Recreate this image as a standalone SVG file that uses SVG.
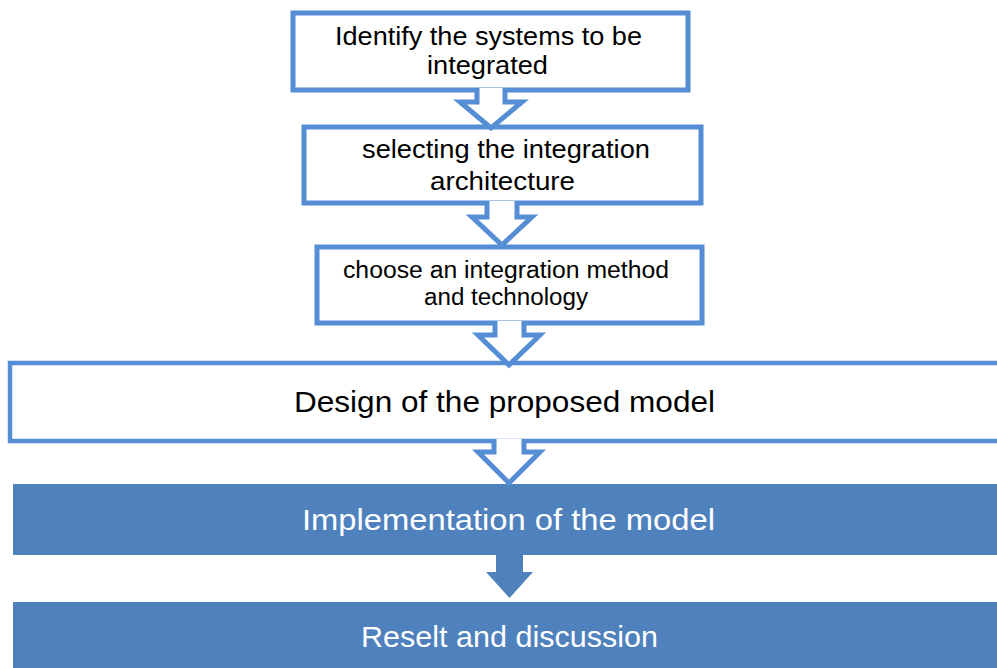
<svg xmlns="http://www.w3.org/2000/svg" width="997" height="668" viewBox="0 0 997 668">
<style>
.box{fill:#FFFFFF;stroke:#558ED5;stroke-width:5;stroke-linejoin:miter}
.big{fill:#FFFFFF;stroke:#558ED5;stroke-width:4.5}
.solid{fill:#4F81BD;stroke:none}
.arr{fill:#FFFFFF;stroke:#558ED5;stroke-width:5;stroke-linejoin:miter}
.sarr{fill:#4F81BD;stroke:none}
text{font-family:"Liberation Sans","Open Sans",sans-serif;text-anchor:middle}
.t1{font-size:25px;fill:#000000}
.t2{font-size:23px;fill:#000000}
.t3{font-size:30px;fill:#000000}
.t4{font-size:30px;fill:#FFFFFF}
</style>
<rect x="0" y="0" width="997" height="668" fill="#FFFFFF"/>
<g id="node1">
<rect class="box" x="293" y="13" width="395" height="77"/>
<text class="t1" x="488.5" y="45" textLength="307" lengthAdjust="spacingAndGlyphs">Identify the systems to be</text>
<text class="t1" x="487.5" y="74" textLength="121" lengthAdjust="spacingAndGlyphs">integrated</text>
</g>
<g id="node2">
<rect class="box" x="304" y="127" width="397" height="76"/>
<text class="t1" x="506" y="158" textLength="288" lengthAdjust="spacingAndGlyphs">selecting the integration</text>
<text class="t1" x="502.5" y="190" textLength="145" lengthAdjust="spacingAndGlyphs">architecture</text>
</g>
<g id="node3">
<rect class="box" x="317" y="247" width="385" height="76"/>
<text class="t2" x="506" y="278" textLength="326" lengthAdjust="spacingAndGlyphs">choose an integration method</text>
<text class="t2" x="506" y="305" textLength="164" lengthAdjust="spacingAndGlyphs">and technology</text>
</g>
<g id="node4">
<rect class="big" x="10" y="363" width="1000" height="78"/>
<text class="t3" x="504.5" y="412" textLength="421" lengthAdjust="spacingAndGlyphs">Design of the proposed model</text>
</g>
<g id="node5">
<rect class="solid" x="13" y="484" width="1000" height="71"/>
<text class="t4" x="508.5" y="530" textLength="413" lengthAdjust="spacingAndGlyphs">Implementation of the model</text>
</g>
<g id="node6">
<rect class="solid" x="13" y="602" width="1000" height="80"/>
<text class="t4" x="509.5" y="647" textLength="297" lengthAdjust="spacingAndGlyphs">Reselt and discussion</text>
</g>
<g id="connectors">
<path class="arr" d="M477,88 L477,102 L460,102 L491,128 L522,102 L505,102 L505,88"/>
<path class="arr" d="M487,201 L487,217 L472,217 L502,245 L532,217 L517,217 L517,201"/>
<path class="arr" d="M495,321 L495,335 L478,335 L509,365 L540,335 L524,335 L524,321"/>
<path class="arr" d="M494,439 L494,452 L478,452 L509,483 L540,452 L524,452 L524,439"/>
<path class="sarr" d="M496,555 L496,572 L486,572 L509.5,598 L533,572 L523,572 L523,555 Z"/>
</g>
</svg>
